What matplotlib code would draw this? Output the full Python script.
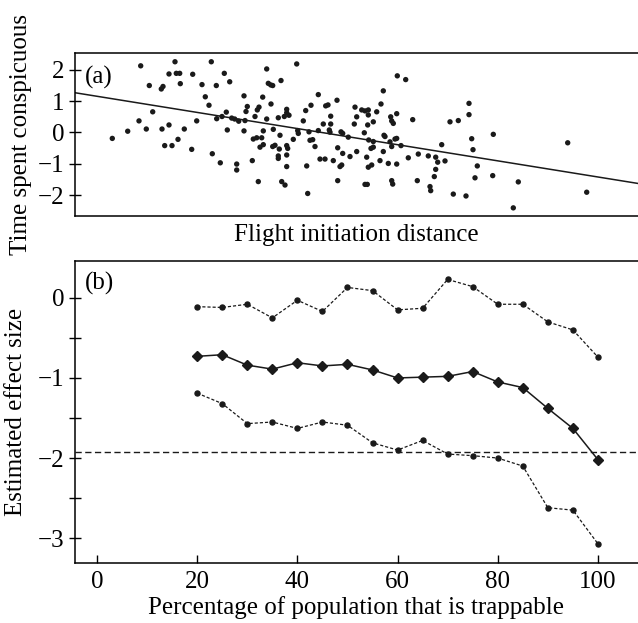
import numpy as np
import matplotlib
matplotlib.use("Agg")
import matplotlib.pyplot as plt

plt.rcParams['font.family'] = ['Liberation Serif', 'DejaVu Serif']

# ---------------- Panel (a) data ----------------
fid = [7.46, 10.54, 12.8, 13.14, 14.26, 14.86, 15.54, 17.26, 17.6, 17.4, 17.94, 18.8, 18.8, 19.4, 20.0,
       20.26, 20.94, 20.6, 21.06, 21.86, 23.34, 23.54, 24.34, 25.4, 26.06, 26.8, 27.26, 27.46, 28.26,
       28.34, 29.06, 29.4, 30.26, 30.46, 30.94, 31.34, 31.94, 32.34, 32.34, 32.74, 29.86,
       44.34, 38.34, 64.46, 66.14, 41.2, 38.66, 39.14, 39.54, 61.66, 33.8, 37.54, 48.66, 52.4, 61.2,
       39.2, 47.2, 50.14, 50.6, 34.46, 36.8, 36.46, 34.2, 42.34, 42.34, 46.14, 56.0, 57.34, 58.0,
       58.66, 58.66, 60.34, 51.14, 56.34, 64.34, 63.14, 63.34, 67.54, 34.0, 36.0, 38.34, 40.66,
       41.86, 42.8, 45.66, 49.66, 51.14, 55.86, 58.54, 59.66, 63.66, 33.8, 37.66, 39.66, 44.54,
       44.66, 46.8, 48.66, 50.86, 51.0, 53.2, 53.54, 54.66, 57.86, 61.8, 62.0, 35.66, 36.34, 37.34,
       41.0, 43.66, 47.0, 47.54, 58.74, 59.66, 63.0, 64.0, 64.34, 37.0, 37.66, 39.54, 40.0, 40.86,
       42.34, 42.54, 48.0, 52.54, 59.2, 59.66, 63.34, 65.2, 61.66, 56.34, 53.54, 40.66, 40.66,
       42.34, 49.0, 50.0, 51.66, 55.0, 58.34, 61.0, 62.66, 64.34, 66.66, 35.46, 46.34, 42.34, 53.34,
       53.0, 58.66, 59.34, 68.66, 52.54, 36.66, 41.34, 42.0, 58.0, 58.46, 63.34, 63.54, 68.46, 46.54,
       70.66, 71.0, 71.14, 72.14, 72.54, 72.14, 71.86, 73.34, 74.0, 75.0, 76.66, 75.66, 78.2, 78.8,
       78.8, 79.34, 79.6, 80.46, 80.0, 83.66, 83.54, 88.66, 87.66, 98.54, 102.34]
conspic = [-0.19, 0.04, 0.37, 2.13, 0.11, 1.50, 0.66, 1.39, 1.47, 0.11, -0.42, 0.24, 1.87, -0.42, 2.26,
           1.89, 1.89, -0.22, 1.56, 0.11, -0.54, 1.86, 0.37, 1.53, 1.14, 0.87, 2.26, -0.68, 1.50,
           0.44, -0.97, 0.51, 0.65, 0.08, 1.62, 0.46, 0.43, -1.01, -1.20, 0.36, 1.89,
           2.19, 2.03, 1.81, 1.69, 1.66, 1.57, 1.52, 1.50, 1.33, 1.17, 1.13, 1.21, 1.03, 0.91,
           0.91, 0.87, 0.85, 0.88, 0.83, 0.81, 0.72, 0.67, 0.74, 0.63, 0.70, 0.81, 0.72, 0.69,
           0.72, 0.56, 0.66, 0.52, 0.50, 0.60, 0.50, 0.37, 0.41, 0.38, 0.51, 0.43, 0.47,
           0.51, 0.55, 0.37, 0.27, 0.27, 0.27, 0.24, 0.34, 0.29, 0.05, 0.05, 0.10, 0.06,
           -0.03, 0.02, 0.06, 0.08, 0.01, 0.02, -0.03, -0.15, -0.01, -0.09, -0.13, -0.21, -0.17, -0.17,
           -0.09, -0.22, -0.25, -0.23, -0.24, -0.29, -0.30, -0.21, -0.19, -0.47, -0.39, -0.45, -0.41, -0.53,
           -0.42, -0.51, -0.45, -0.49, -0.51, -0.47, -0.45, -0.42, -0.61, -0.61, -0.67, -0.75, -0.83,
           -0.72, -0.85, -0.85, -0.90, -0.77, -0.79, -0.90, -0.99, -1.01, -0.81, -0.90, -1.07, -1.09, -1.04,
           -1.09, -1.11, -1.04, -0.69, -1.54, -1.57, -1.57, -1.68, -1.66, -1.66, -1.54, -1.65, -1.54, -1.95,
           -0.75, -1.73, -1.86, -0.79, -0.95, -1.18, -1.41, -0.39, -0.91, 0.34, 0.38, -1.97, -2.03, 0.93,
           0.57, -0.20, -0.55, -1.07, -1.45, -0.06, -1.38, -1.58, -2.41, -0.33, -1.91]
fit_intercept = 1.27
fit_slope = -0.02575

# ---------------- Panel (b) data ----------------
pct = [20, 25, 30, 35, 40, 45, 50, 55, 60, 65, 70, 75, 80, 85, 90, 95, 100]
upper = [-0.11, -0.12, -0.08, -0.25, -0.03, -0.17, 0.13, 0.09, -0.15, -0.13, 0.23, 0.14, -0.08, -0.08,
         -0.30, -0.40, -0.74]
estimate = [-0.73, -0.71, -0.84, -0.89, -0.81, -0.85, -0.83, -0.90, -1.00, -0.99, -0.98, -0.92, -1.05,
            -1.12, -1.38, -1.63, -2.02]
lower = [-1.19, -1.32, -1.57, -1.55, -1.63, -1.55, -1.59, -1.81, -1.90, -1.78, -1.95, -1.97, -2.00,
         -2.10, -2.62, -2.65, -3.07]
reference_level = -1.925

W, H = 638, 623
fig = plt.figure(figsize=(W / 100, H / 100), dpi=100)

L = 75 / W
ax1 = fig.add_axes([L, 1 - 216 / H, 1.0 - L, (216 - 53) / H])
ax2 = fig.add_axes([L, 1 - 563 / H, 1.0 - L, (563 - 261) / H])

FS = 18
INK = '#1a1a1a'

# Panel (a)
ax1.scatter(fid, conspic, s=15, color=INK, edgecolors='none', zorder=3)
xx = np.array([0, 112.6])
ax1.plot(xx, fit_intercept + fit_slope * xx, color=INK, lw=1.1)
ax1.set_xlim(0, 112.6)
ax1.set_ylim(-2.67, 2.54)
ax1.set_yticks([-2, -1, 0, 1, 2])
ax1.set_yticklabels(['\u22122', '\u22121', '0', '1', '2'])
ax1.set_xticks([])
ax1.set_xlabel('Flight initiation distance', fontsize=FS, labelpad=6)
ax1.set_ylabel('Time spent conspicuous', fontsize=FS, labelpad=4)
ax1.text(0.018, 0.92, '(a)', transform=ax1.transAxes, fontsize=FS, va='top', ha='left')

# Panel (b)
ax2.axhline(reference_level, color=INK, lw=1.0, ls=(0, (4.5, 2.5)))
ax2.plot(pct, upper, color=INK, lw=0.9, ls=(0, (2.5, 1.6)), marker='o', ms=3.6)
ax2.plot(pct, lower, color=INK, lw=0.9, ls=(0, (2.5, 1.6)), marker='o', ms=3.6)
ax2.plot(pct, estimate, color=INK, lw=1.1, marker='D', ms=4.8)
ax2.set_xlim(-4.4, 108)
ax2.set_ylim(-3.31, 0.46)
ax2.set_xticks([0, 20, 40, 60, 80, 100])
ax2.set_yticks([-3, -2, -1, 0])
ax2.set_yticklabels(['\u22123', '\u22122', '\u22121', '0'])
ax2.set_yticks([-2.5, -1.5, -0.5], minor=True)
ax2.set_ylabel('Estimated effect size', fontsize=FS, labelpad=8)
ax2.text(0.018, 0.965, '(b)', transform=ax2.transAxes, fontsize=FS, va='top', ha='left')

for ax in (ax1, ax2):
    ax.spines['right'].set_visible(False)
    for s in ('left', 'bottom', 'top'):
        ax.spines[s].set_linewidth(1.1)
    ax.tick_params(axis='both', which='both', direction='in', length=6, width=1.0,
                   labelsize=FS, pad=6)
    ax.tick_params(axis='y', which='both', direction='inout', length=9, pad=3)

ax2.set_xlabel('Percentage of population that is trappable', fontsize=FS, labelpad=2)

fig.savefig('out.png', dpi=100)
